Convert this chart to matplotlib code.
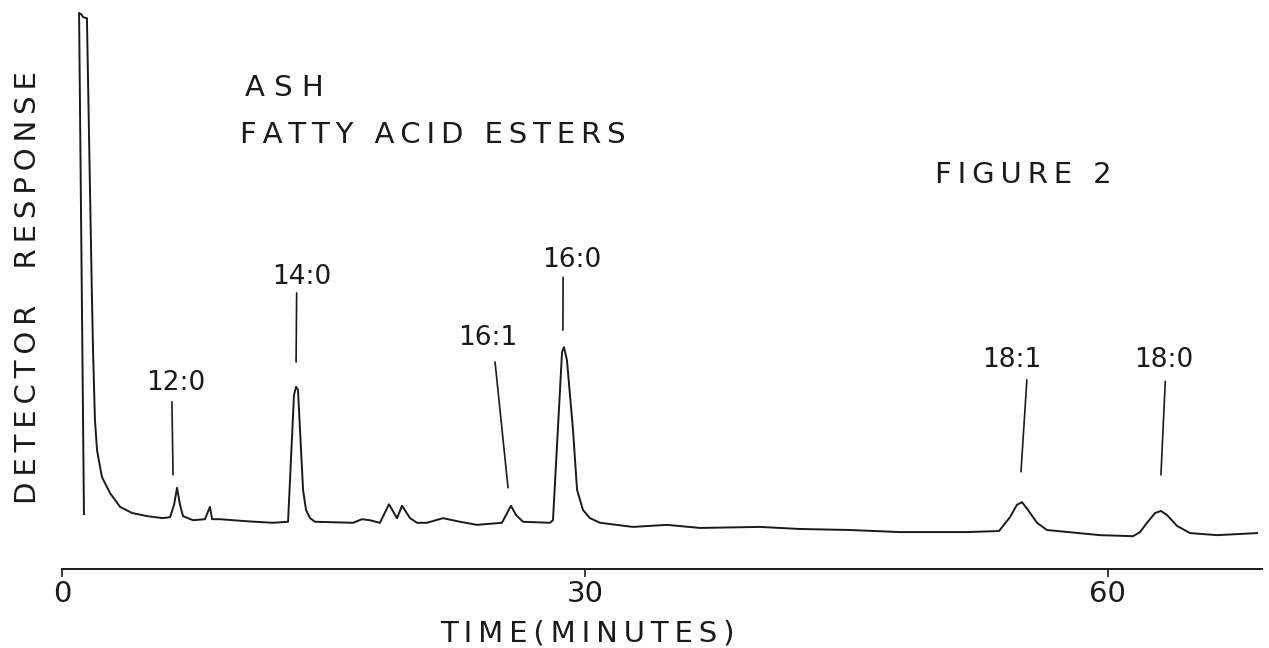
import matplotlib
matplotlib.use("Agg")
import matplotlib.pyplot as plt

# chromatogram trace (time in minutes, response in % of full scale)
time_min = [1.26, 0.98, 1.15, 1.20, 1.38, 1.43, 1.72, 1.78, 1.89, 2.01, 2.29, 2.75, 3.33, 4.02,
            4.88, 5.79, 6.20, 6.43, 6.60, 6.77, 6.94, 7.52, 8.20, 8.49, 8.61, 9.06, 10.61, 12.11,
            12.97, 13.31, 13.43, 13.54, 13.83, 14.00, 14.23, 14.52, 16.70, 17.21, 17.67, 18.24,
            18.76, 19.22, 19.51, 19.97, 20.37, 20.94, 21.86, 22.83, 23.81, 25.24, 25.76, 26.05,
            26.45, 28.00, 28.17, 28.69, 28.80, 28.97, 29.32, 29.55, 29.89, 30.29, 30.87, 32.76,
            34.71, 36.60, 40.05, 42.34, 45.21, 48.08, 51.92, 53.76, 54.39, 54.79, 55.08, 55.42,
            55.94, 56.51, 59.55, 61.45, 61.85, 62.25, 62.71, 63.05, 63.40, 63.97, 64.72, 66.27,
            68.56]
response = [3.1, 100.4, 100.0, 99.6, 99.4, 99.4, 44.7, 35.0, 21.4, 15.5, 10.3, 7.2, 4.5, 3.3,
            2.7, 2.3, 2.5, 4.9, 8.2, 4.9, 2.7, 1.9, 2.1, 4.5, 2.1, 2.1, 1.7, 1.4,
            1.6, 26.2, 27.8, 27.2, 7.8, 3.9, 2.3, 1.6, 1.4, 2.1, 1.9, 1.4,
            5.0, 2.3, 4.7, 2.3, 1.4, 1.4, 2.3, 1.6, 1.0, 1.4, 4.7, 2.9,
            1.6, 1.4, 1.9, 34.6, 35.5, 33.0, 19.4, 7.8, 3.9, 2.3, 1.4, 0.6,
            1.0, 0.4, 0.6, 0.2, 0.0, -0.4, -0.4, -0.2, 2.5, 4.9, 5.4, 3.9,
            1.4, 0.0, -1.0, -1.2, -0.4, 1.4, 3.3, 3.7, 2.9, 0.8, -0.6, -1.0,
            -0.6]

peak_names = ["12:0", "14:0", "16:1", "16:0", "18:1", "18:0"]
peak_heights = [8.2, 27.8, 4.7, 35.5, 5.4, 3.7]

x_ticks = [0, 30, 60]

# layout of the peak labels (label centre), leader tips and where leaders leave the label
label_x = [6.54, 13.77, 24.44, 29.26, 54.50, 63.22]
label_y = [28.5, 49.1, 37.3, 52.4, 33.0, 33.0]
tip_x = [6.37, 13.43, 25.59, 28.74, 55.02, 63.05]
tip_gap = [2.5, 4.8, 3.5, 3.3, 5.9, 7.0]
leader_rel = [0.43, 0.41, 0.60, 0.35, 0.76, 0.53]
leader_shrink = [2, 0, 6, 1, 3, 4]

font = "DejaVu Sans"
ink = "#1a1a1a"


def spaced(s):
    # lettering guide look: a thin space between every character
    return "\u2009".join(s)


fig = plt.figure(figsize=(12.69, 6.48), dpi=100)
ax = fig.add_axes([0, 0, 1, 1])
ax.set_xlim(-3.557, 69.25)
ax.set_ylim(-22.91, 102.91)

ax.plot(time_min, response, color=ink, lw=1.4, solid_joinstyle="round")

for i, name in enumerate(peak_names):
    ax.annotate(name, xy=(tip_x[i], peak_heights[i] + tip_gap[i]),
                xytext=(label_x[i], label_y[i]), ha="center", va="center",
                fontsize=19, family=font, color=ink,
                arrowprops=dict(arrowstyle="-", color=ink, lw=1.2,
                                relpos=(leader_rel[i], 0),
                                shrinkA=leader_shrink[i], shrinkB=0))

for s in ["top", "right", "left"]:
    ax.spines[s].set_visible(False)
ax.spines["bottom"].set_position(("data", -7.6))
ax.spines["bottom"].set_bounds(0, 68.85)
ax.spines["bottom"].set_linewidth(1.4)
ax.spines["bottom"].set_color(ink)
ax.set_yticks([])
ax.set_xticks(x_ticks)
ax.set_xticklabels([str(v) for v in x_ticks], family=font)
ax.tick_params(axis="x", direction="out", length=6, width=1.2, colors=ink,
               labelsize=21, pad=2)

ax.set_xlabel(spaced("TIME(MINUTES)"), fontsize=21, family=font, color=ink)
ax.xaxis.set_label_coords(0.463, 0.022)
ax.set_ylabel(spaced("DETECTOR  RESPONSE"), fontsize=21, family=font, color=ink)
ax.yaxis.set_label_coords(0.022, 0.557)
ax.xaxis.label.set_va("center")
ax.yaxis.label.set_va("center")

fig.text(0.193, 0.864, "A S H", fontsize=21, family=font, color=ink, va="center")
fig.text(0.189, 0.792, spaced("FATTY ACID ESTERS"), fontsize=21, family=font, color=ink,
         va="center")
fig.text(0.737, 0.730, spaced("FIGURE 2"), fontsize=21, family=font, color=ink, va="center")

fig.savefig("out.png", dpi=100)
